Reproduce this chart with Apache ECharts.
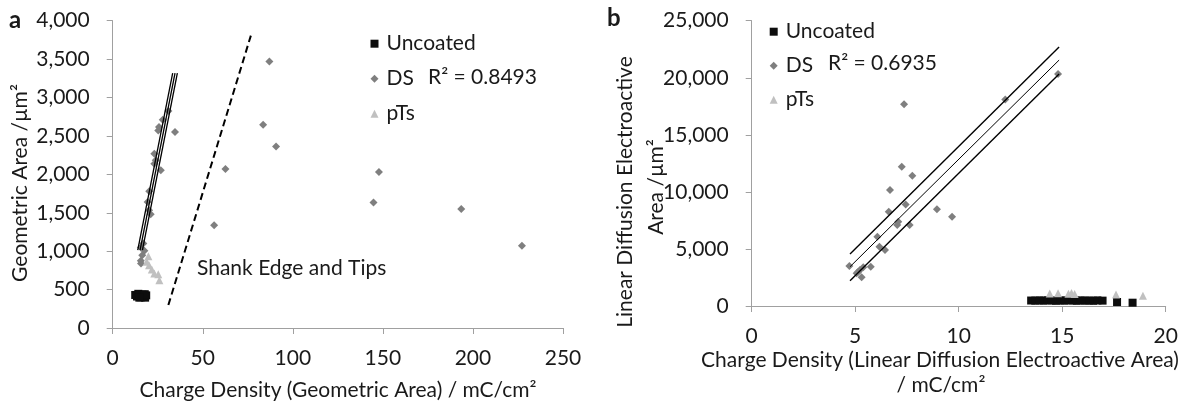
<!DOCTYPE html>
<html><head><meta charset="utf-8">
<script src="https://cdn.jsdelivr.net/npm/echarts@6/dist/echarts.min.js"></script>
<style>html,body{margin:0;padding:0;background:#fff}#c{width:1187px;height:403px}</style>
</head><body><div id="c"></div>
<script>
// ---- Panel a data: [charge density (geometric), geometric area]
const aUncoated = [[12.5,430],[13.5,410],[14.2,445],[15.0,420],[15.8,400],[16.5,435],[17.2,415],[18.0,395],[18.6,425],[17.8,440],[14.8,395]];
const aDS = [[30.9,2823],[27.8,2711],[25.7,2615],[25.3,2572],[34.6,2550],[23.1,2269],[23.9,2182],[23.1,2139],[26.7,2052],[20.3,1780],[19.4,1641],[20.2,1533],[21.1,1481],[17.0,1100],[15.6,1048],[17.6,1004],[16.4,948],[15.6,874],[15.7,840],[87.0,3468],[83.5,2646],[90.7,2364],[62.6,2070],[56.3,1338],[147.8,2030],[144.8,1633],[193.5,1550],[227.2,1069]];
const aPTs = [[19.8,935],[18.9,861],[20.2,818],[21.7,762],[23.1,710],[25.3,701],[25.9,623]];
const aFitUpper = [[13.9,1013],[33.3,3317]];
const aFitMid = [[15.2,1013],[34.6,3317]];
const aFitLower = [[16.5,1013],[35.9,3317]];
const aShank = [[30.9,299],[76.7,3806]];
const aR2 = 'R² = 0.8493';
// ---- Panel b data: [charge density (linear diffusion area), linear diffusion area]
const bUncoated = [[13.5,480],[13.7,470],[13.9,490],[14.1,470],[14.3,500],[14.5,480],[14.7,460],[14.9,490],[15.1,470],[15.3,500],[15.5,480],[15.7,460],[15.9,490],[16.1,470],[16.3,480],[16.5,460],[16.7,490],[16.95,470],[17.65,350],[18.4,290]];
const bDS = [[12.25,18100],[14.8,20320],[7.36,17670],[7.25,12200],[7.76,11410],[6.68,10160],[7.44,8900],[6.62,8260],[8.95,8470],[9.68,7820],[7.08,7390],[7.03,7100],[7.63,7100],[6.07,6070],[6.17,5200],[6.44,4900],[4.72,3500],[5.75,3440],[5.07,2860],[5.23,3150],[5.39,3390],[5.31,2510],[5.15,3000]];
const bPTs = [[14.4,1100],[14.8,1120],[15.3,1080],[15.45,1150],[15.6,1060],[17.6,1000],[18.9,900]];
const bFitUpper = [[4.75,4555],[14.85,22700]];
const bFitMid = [[4.75,3440],[14.85,21550]];
const bFitLower = [[4.75,2216],[14.85,20320]];
const bR2 = 'R² = 0.6935';
const legendNames = ['Uncoated','DS','pTs'];

const FONT = 'Lato';
const FS = 21;
const TXT = '#1a1a1a';
const AX = '#a0a0a0';
const fmt = v => Number(v).toLocaleString('en-US');

function xAxis(gi, max, interval){
  return {type:'value', gridIndex:gi, min:0, max:max, interval:interval,
    axisLine:{show:true, onZero:false, lineStyle:{color:AX}},
    axisTick:{show:true, length:6, lineStyle:{color:AX}},
    splitLine:{show:false},
    axisLabel:{margin:20, fontSize:FS, fontFamily:FONT, color:TXT, formatter:fmt}};
}
function yAxis(gi, max, interval){
  return {type:'value', gridIndex:gi, min:0, max:max, interval:interval,
    axisLine:{show:true, onZero:false, lineStyle:{color:AX}},
    axisTick:{show:true, length:6, lineStyle:{color:AX}},
    splitLine:{show:false},
    axisLabel:{margin:23, fontSize:FS, fontFamily:FONT, color:TXT, formatter:fmt}};
}
function sc(name, data, gi, symbol, size, color){
  return {type:'scatter', name:name, xAxisIndex:gi, yAxisIndex:gi, data:data,
    symbol:symbol, symbolSize:size, itemStyle:{color:color, opacity:1}, z:3};
}
function ln(name, data, gi, width, dashed){
  return {type:'line', name:name, xAxisIndex:gi, yAxisIndex:gi, data:data,
    showSymbol:false, symbol:'none', silent:true, z:4,
    lineStyle:{color:'#000', width:width, type: dashed ? [7,4] : 'solid'}};
}
function legend(left, top, gap){
  return {orient:'vertical', left:left, top:top, padding:0, itemGap:gap,
    itemWidth:8, itemHeight:8, data:legendNames, selectedMode:false,
    textStyle:{fontSize:FS, fontFamily:FONT, color:TXT, lineHeight:22, padding:[0,0,0,3]}};
}
function txt(x, y, text, opts){
  opts = opts || {};
  return {type:'text', x:x, y:y, rotation:opts.rot||0, silent:true,
    style:{text:text, fontSize:opts.fs||FS, fontFamily:FONT, fontWeight:opts.bold?'bold':'normal',
      fill:TXT, align:opts.align||'left', verticalAlign:'middle'}};
}

const chart = echarts.init(document.getElementById('c'), null, {renderer:'canvas'});
chart.setOption({
  animation:false,
  backgroundColor:'#fff',
  grid:[
    {left:112.7, top:20.7, width:450.3, height:307.3},
    {left:751.7, top:20.7, width:414, height:285.3}
  ],
  xAxis:[xAxis(0,250,50), xAxis(1,20,5)],
  yAxis:[yAxis(0,4000,500), yAxis(1,25000,5000)],
  legend:[legend(370.5,32.7,13), legend(769.7,20.7,12)],
  series:[
    sc('Uncoated', aUncoated, 0, 'rect', 8, '#0d0d0d'),
    sc('DS', aDS, 0, 'diamond', 8, '#7f7f7f'),
    sc('pTs', aPTs, 0, 'triangle', 8, '#c0c0c0'),
    ln('fitA1', aFitUpper, 0, 1.3),
    ln('fitA2', aFitMid, 0, 1.3),
    ln('fitA3', aFitLower, 0, 1.3),
    ln('shank', aShank, 0, 2, true),
    sc('Uncoated', bUncoated, 1, 'rect', 8, '#0d0d0d'),
    sc('DS', bDS, 1, 'diamond', 8, '#7f7f7f'),
    sc('pTs', bPTs, 1, 'triangle', 8, '#c0c0c0'),
    ln('fitB1', bFitUpper, 1, 1.4),
    ln('fitB2', bFitMid, 1, 1),
    ln('fitB3', bFitLower, 1, 1.4)
  ],
  graphic:[
    txt(9, 20, 'a', {bold:true, fs:24}),
    txt(607, 18, 'b', {bold:true, fs:24}),
    txt(428, 77, aR2),
    txt(828, 63, bR2),
    txt(197, 268, 'Shank Edge and Tips'),
    txt(338, 390, 'Charge Density (Geometric Area) / mC/cm²', {align:'center'}),
    txt(940, 360, 'Charge Density (Linear Diffusion Electroactive Area)', {align:'center'}),
    txt(941, 385, '/ mC/cm²', {align:'center'}),
    txt(20, 183, 'Geometric Area /µm²', {align:'center', rot:Math.PI/2}),
    txt(625, 192, 'Linear Diffusion Electroactive', {align:'center', rot:Math.PI/2}),
    txt(656, 187, 'Area /µm²', {align:'center', rot:Math.PI/2})
  ]
});
</script></body></html>
